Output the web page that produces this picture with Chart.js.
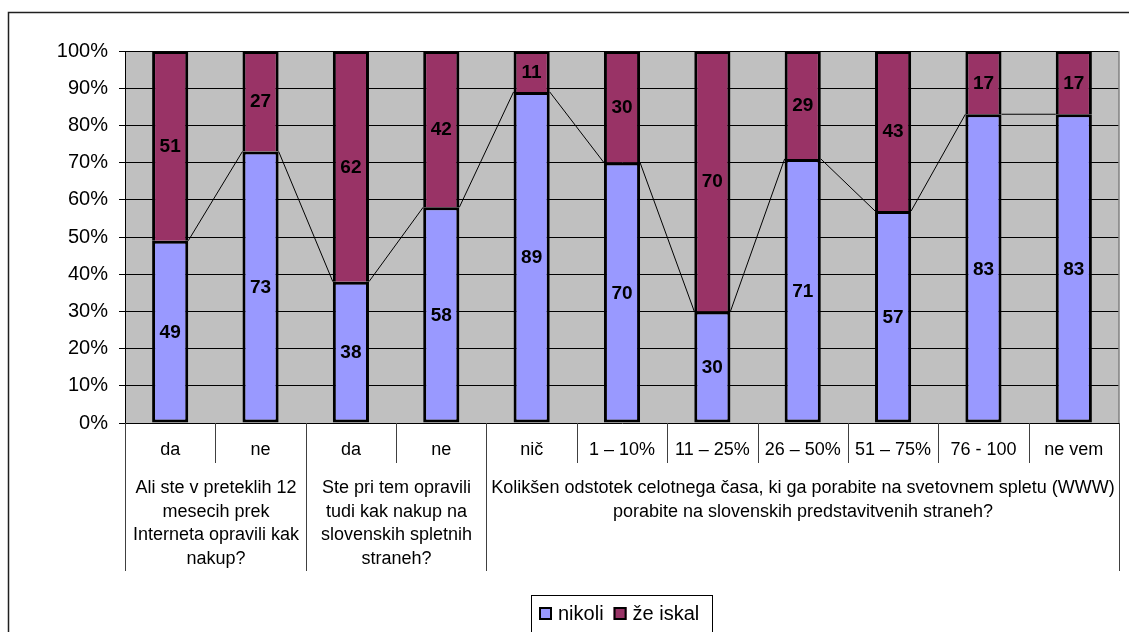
<!DOCTYPE html>
<html>
<head>
<meta charset="utf-8">
<script src="https://cdn.jsdelivr.net/npm/chart.js@4/dist/chart.umd.min.js"></script>
<style>
  html, body { margin: 0; padding: 0; background: #fff; }
  #wrap { width: 1129px; height: 632px; position: relative; overflow: hidden; }
  canvas { display: block; }
</style>
</head>
<body>
<div id="wrap"><canvas id="c" width="1129" height="632"></canvas></div>
<script>
// Answer categories (first axis level)
const categories = ['da', 'ne', 'da', 'ne', 'nič', '1 – 10%', '11 – 25%', '26 – 50%', '51 – 75%', '76 - 100', 'ne vem'];
// Question groups (second axis level), wrapped into lines, and how many categories each spans
const groupLabels = [
  ['Ali ste v preteklih 12', 'mesecih prek', 'Interneta opravili kak', 'nakup?'],
  ['Ste pri tem opravili', 'tudi kak nakup na', 'slovenskih spletnih', 'straneh?'],
  ['Kolikšen odstotek celotnega časa, ki ga porabite na svetovnem spletu (WWW)', 'porabite na slovenskih predstavitvenih straneh?']
];
const groupSizes = [2, 2, 7];
// Series values (percent)
const nikoli  = [49, 73, 38, 58, 89, 70, 30, 71, 57, 83, 83];
const zeIskal = [51, 27, 62, 42, 11, 30, 70, 29, 43, 17, 17];
const seriesNames = ['nikoli', 'že iskal'];
const seriesColors = ['#9999FF', '#993366'];

const FONT = "'Liberation Sans', Arial, sans-serif";

// Grey plot area and outer frame
const backgroundPlugin = {
  id: 'background',
  beforeDraw(chart) {
    const { ctx, chartArea: a } = chart;
    ctx.save();
    ctx.fillStyle = '#fff';
    ctx.fillRect(0, 0, chart.width, chart.height);
    ctx.fillStyle = '#C0C0C0';
    ctx.fillRect(a.left, a.top, a.right - a.left, a.bottom - a.top);
    // outer frame
    ctx.strokeStyle = '#202020';
    ctx.lineWidth = 1.5;
    ctx.beginPath();
    ctx.moveTo(8.5, chart.height + 5);
    ctx.lineTo(8.5, 12.5);
    ctx.lineTo(chart.width + 5, 12.5);
    ctx.stroke();
    ctx.restore();
  },
  afterDraw(chart) {
    const { ctx, chartArea: a } = chart;
    ctx.save();
    // right edge of plot area
    ctx.strokeStyle = '#808080';
    ctx.lineWidth = 1.5;
    ctx.beginPath();
    ctx.moveTo(a.right, a.top);
    ctx.lineTo(a.right, a.bottom);
    ctx.stroke();
    ctx.restore();
  }
};

// Lines joining the tops of the "nikoli" segments
const seriesLinesPlugin = {
  id: 'seriesLines',
  beforeDatasetsDraw(chart) {
    const { ctx } = chart;
    const els = chart.getDatasetMeta(0).data;
    ctx.save();
    ctx.strokeStyle = '#000';
    ctx.lineWidth = 1;
    ctx.beginPath();
    for (let i = 0; i < els.length - 1; i++) {
      const a = els[i], b = els[i + 1];
      ctx.moveTo(a.x + a.width / 2, a.y);
      ctx.lineTo(b.x - b.width / 2, b.y);
    }
    ctx.stroke();
    ctx.restore();
  }
};

// Value labels centred in each segment
const valueLabelsPlugin = {
  id: 'valueLabels',
  afterDatasetsDraw(chart) {
    const { ctx } = chart;
    ctx.save();
    ctx.font = `bold 19px ${FONT}`;
    ctx.fillStyle = '#000';
    ctx.textAlign = 'center';
    ctx.textBaseline = 'middle';
    chart.data.datasets.forEach((ds, di) => {
      chart.getDatasetMeta(di).data.forEach((el, i) => {
        const y = (el.y + el.base) / 2;
        ctx.fillText(String(ds.data[i]), el.x, y + 1);
      });
    });
    ctx.restore();
  }
};

// Two-level category axis under the plot
const multiAxisPlugin = {
  id: 'multiAxis',
  afterDraw(chart) {
    const { ctx, chartArea: a } = chart;
    const x = chart.scales.x;
    const n = categories.length;
    const step = (a.right - a.left) / n;
    const edge = k => Math.round(a.left + k * step) + 0.5;
    const row1Bottom = a.bottom + 40;
    const row2Bottom = a.bottom + 148;
    ctx.save();
    ctx.strokeStyle = '#404040';
    ctx.lineWidth = 1;
    ctx.beginPath();
    const groupEdges = [0];
    groupSizes.reduce((s, g) => { groupEdges.push(s + g); return s + g; }, 0);
    for (let k = 0; k <= n; k++) {
      const isGroup = groupEdges.includes(k);
      ctx.moveTo(edge(k), a.bottom);
      ctx.lineTo(edge(k), isGroup ? row2Bottom : row1Bottom);
    }
    ctx.stroke();

    ctx.fillStyle = '#000';
    ctx.textAlign = 'center';
    ctx.textBaseline = 'middle';
    ctx.font = `18px ${FONT}`;
    categories.forEach((c, i) => {
      ctx.fillText(c, x.getPixelForValue(i), a.bottom + 27);
    });
    groupLabels.forEach((lines, g) => {
      const cx = (edge(groupEdges[g]) + edge(groupEdges[g + 1])) / 2;
      lines.forEach((t, li) => {
        ctx.fillText(t, cx, a.bottom + 65 + li * 23.7);
      });
    });
    ctx.restore();
  }
};

// Boxed legend at the bottom
const legendBoxPlugin = {
  id: 'legendBox',
  afterDraw(chart) {
    const { ctx } = chart;
    ctx.save();
    ctx.strokeStyle = '#000';
    ctx.lineWidth = 1;
    ctx.strokeRect(531.5, 595.5, 181, 40);
    ctx.font = `20px ${FONT}`;
    ctx.textBaseline = 'middle';
    ctx.textAlign = 'left';
    const cy = 613;
    let xPos = 539;
    chart.data.datasets.forEach((ds, i) => {
      ctx.fillStyle = ds.backgroundColor;
      ctx.fillRect(xPos, cy - 6, 13, 13);
      ctx.strokeStyle = '#000';
      ctx.lineWidth = 2;
      ctx.strokeRect(xPos + 1, cy - 5, 11, 11);
      ctx.fillStyle = '#000';
      ctx.fillText(ds.label, xPos + 19, cy + 1);
      xPos += 19 + ctx.measureText(ds.label).width + 10;
    });
    ctx.restore();
  }
};

new Chart(document.getElementById('c'), {
  type: 'bar',
  data: {
    labels: categories,
    datasets: [
      { label: seriesNames[0], data: nikoli, backgroundColor: seriesColors[0],
        borderColor: '#000', borderWidth: 3, borderSkipped: false },
      { label: seriesNames[1], data: zeIskal, backgroundColor: seriesColors[1],
        borderColor: '#000', borderWidth: 3, borderSkipped: 'start' }
    ]
  },
  options: {
    responsive: false,
    animation: false,
    devicePixelRatio: 1,
    layout: { padding: { left: 0, top: 51, right: 10, bottom: 209 } },
    datasets: { bar: { barPercentage: 0.4, categoryPercentage: 1.0 } },
    plugins: { legend: { display: false }, tooltip: { enabled: false } },
    scales: {
      x: { stacked: true, display: false },
      y: {
        stacked: true, min: 0, max: 100,
        afterFit(s) { s.width = 125; },
        ticks: {
          stepSize: 10,
          callback: v => v + '%',
          color: '#000',
          padding: 11,
          font: { family: FONT, size: 20 }
        },
        grid: { color: '#000', lineWidth: 1, tickLength: 6 },
        border: { color: '#000', width: 1 }
      }
    }
  },
  plugins: [backgroundPlugin, seriesLinesPlugin, valueLabelsPlugin, multiAxisPlugin, legendBoxPlugin]
});
</script>
</body>
</html>
